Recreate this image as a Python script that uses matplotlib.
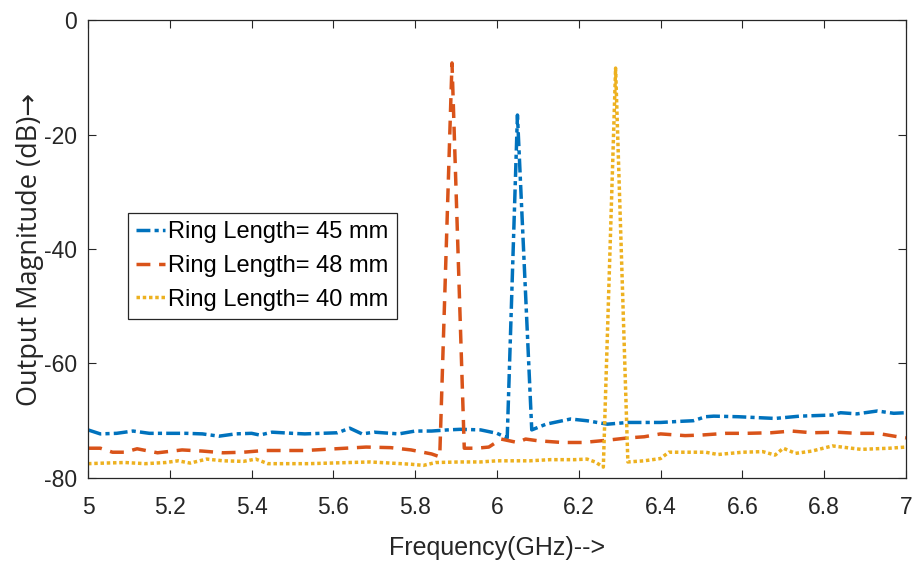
import matplotlib.pyplot as plt

# Ring length 45 mm
freq_45 = [5.00, 5.03, 5.07, 5.11, 5.15, 5.19, 5.24, 5.28, 5.32, 5.36, 5.40, 5.42,
           5.45, 5.50, 5.53, 5.57, 5.61, 5.64, 5.67, 5.70, 5.76, 5.80, 5.84, 5.88,
           5.91, 5.96, 6.00, 6.025, 6.05, 6.085, 6.12, 6.18, 6.22, 6.27, 6.32, 6.40,
           6.45, 6.48, 6.51, 6.53, 6.59, 6.68, 6.74, 6.82, 6.84, 6.88, 6.93, 6.97, 7.00]
mag_45 = [-71.6, -72.3, -72.2, -71.8, -72.2, -72.2, -72.2, -72.3, -72.7, -72.3, -72.2, -72.5,
          -72.0, -72.2, -72.3, -72.2, -72.1, -71.3, -72.3, -72.0, -72.3, -71.8, -71.8, -71.6,
          -71.5, -71.6, -72.2, -73.0, -16.6, -71.6, -70.6, -69.7, -70.0, -70.6, -70.3, -70.3,
          -70.1, -70.0, -69.3, -69.2, -69.3, -69.6, -69.2, -69.0, -68.6, -68.8, -68.3, -68.7, -68.6]

# Ring length 48 mm
freq_48 = [5.00, 5.03, 5.06, 5.09, 5.12, 5.17, 5.23, 5.28, 5.33, 5.38, 5.43, 5.49,
           5.53, 5.58, 5.63, 5.68, 5.74, 5.79, 5.84, 5.86, 5.89, 5.92, 5.95, 5.98,
           6.01, 6.05, 6.07, 6.10, 6.16, 6.21, 6.27, 6.32, 6.36, 6.40, 6.46, 6.50,
           6.56, 6.61, 6.67, 6.72, 6.77, 6.83, 6.88, 6.93, 6.98, 7.00]
mag_48 = [-74.8, -74.8, -75.5, -75.5, -74.9, -75.6, -75.1, -75.3, -75.6, -75.5, -75.2, -75.2,
          -75.2, -75.0, -74.8, -74.6, -74.7, -75.1, -75.8, -76.3, -7.5, -74.8, -74.8, -74.6,
          -73.2, -73.8, -73.2, -73.5, -73.8, -73.8, -73.4, -73.0, -72.8, -72.3, -72.6, -72.5,
          -72.2, -72.2, -72.1, -71.8, -72.1, -72.0, -72.2, -72.2, -72.8, -73.0]

# Ring length 40 mm
freq_40 = [5.00, 5.04, 5.09, 5.14, 5.19, 5.22, 5.25, 5.29, 5.33, 5.38, 5.41, 5.44,
           5.49, 5.54, 5.59, 5.64, 5.69, 5.74, 5.79, 5.82, 5.85, 5.91, 5.96, 6.00,
           6.08, 6.13, 6.19, 6.22, 6.24, 6.26, 6.29, 6.32, 6.36, 6.40, 6.42, 6.46,
           6.51, 6.54, 6.60, 6.65, 6.68, 6.70, 6.73, 6.77, 6.82, 6.89, 6.96, 7.00]
mag_40 = [-77.5, -77.4, -77.3, -77.5, -77.3, -77.0, -77.4, -76.7, -77.0, -77.1, -76.7, -77.5,
          -77.5, -77.5, -77.4, -77.3, -77.2, -77.4, -77.6, -77.8, -77.3, -77.2, -77.2, -77.0,
          -77.0, -76.8, -76.8, -76.7, -77.2, -78.1, -8.4, -77.2, -77.0, -76.6, -75.5, -75.5,
          -75.5, -75.9, -75.5, -75.4, -76.0, -74.8, -75.7, -75.3, -74.4, -75.0, -74.8, -74.6]

labels = ['Ring Length= 45 mm', 'Ring Length= 48 mm', 'Ring Length= 40 mm']
x_ticks = [5, 5.2, 5.4, 5.6, 5.8, 6, 6.2, 6.4, 6.6, 6.8, 7]
x_ticklabels = ['5', '5.2', '5.4', '5.6', '5.8', '6', '6.2', '6.4', '6.6', '6.8', '7']
y_ticks = [-80, -60, -40, -20, 0]

plt.rcParams['font.family'] = ['Liberation Sans', 'DejaVu Sans']
plt.rcParams['axes.unicode_minus'] = False

fig = plt.figure(figsize=(9.13, 5.62), dpi=100)
ax = fig.add_axes([0.0964, 0.1495, 0.8959, 0.8149])

ax.plot(freq_45, mag_45, color='#0072BD', linewidth=2.5, linestyle=(0, (4, 1.2, 1.2, 1.2)),
        label=labels[0])
ax.plot(freq_48, mag_48, color='#D95319', linewidth=2.5, linestyle=(0, (4, 2.5)),
        label=labels[1])
ax.plot(freq_40, mag_40, color='#EDB120', linewidth=2.5, linestyle=(0, (1, 0.8)),
        label=labels[2])

ax.set_xlim(5, 7)
ax.set_ylim(-80, 0)
ax.set_xticks(x_ticks)
ax.set_xticklabels(x_ticklabels)
ax.set_yticks(y_ticks)
ax.tick_params(direction='in', top=True, right=True, length=6, width=0.8,
               colors='#262626', labelsize=16.5)
ax.tick_params(axis='x', pad=13)
ax.tick_params(axis='y', pad=8)
for s in ax.spines.values():
    s.set_color('#262626')
    s.set_linewidth(0.9)

ax.set_xlabel('Frequency(GHz)-->', fontsize=18, color='#262626', labelpad=12)
ax.set_ylabel('Output Magnitude (dB)\u2192', fontsize=19.5, color='#262626',
              family=['Open Sans', 'DejaVu Sans'], labelpad=0)

leg = ax.legend(loc='upper left', bbox_to_anchor=(0.049, 0.579), fontsize=17,
                handlelength=1.2, handletextpad=0.15, labelspacing=0.5,
                borderpad=0.35, borderaxespad=0, fancybox=False, framealpha=1)
leg.get_frame().set_edgecolor('#262626')
leg.get_frame().set_linewidth(0.9)

fig.savefig('out.png', dpi=100)
